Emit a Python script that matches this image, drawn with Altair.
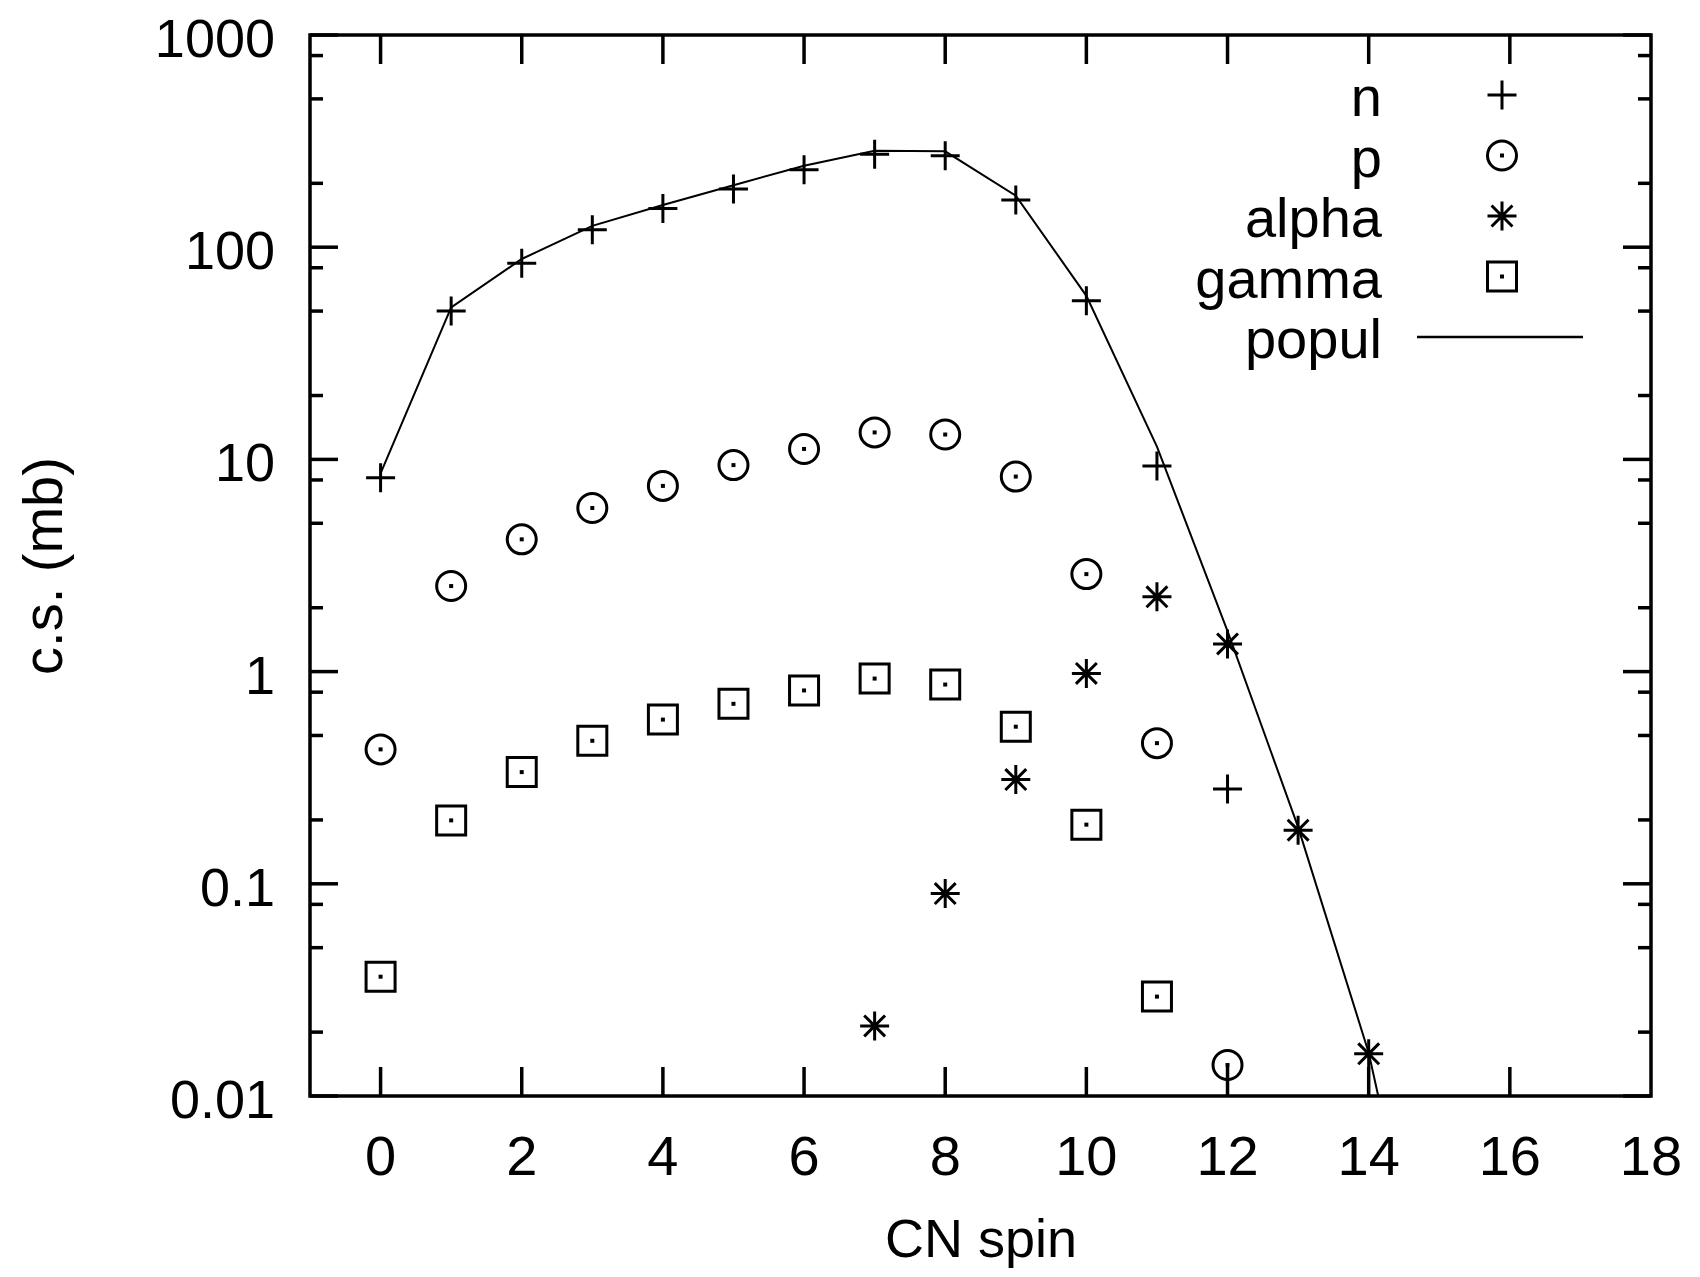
import altair as alt
import pandas as pd

# ---------------- data ----------------
spin_n = list(range(0, 13))
n_cs = [8.2, 50, 84, 121, 152, 188, 232, 274, 270, 167, 56, 9.3, 0.28]

spin_p = list(range(0, 13))
p_cs = [0.43, 2.53, 4.2, 5.9, 7.5, 9.4, 11.2, 13.4, 13.1, 8.3, 2.88, 0.46, 0.014]

spin_alpha = list(range(7, 15))
alpha_cs = [0.0214, 0.090, 0.31, 0.98, 2.25, 1.35, 0.179, 0.0158]

spin_gamma = list(range(0, 12))
gamma_cs = [0.0365, 0.199, 0.336, 0.472, 0.594, 0.705, 0.815, 0.927, 0.869, 0.55, 0.19, 0.0294]

spin_popul = list(range(0, 16))
popul_cs = [8.6, 52, 88, 126, 158, 196, 242, 285, 283, 175, 59, 11.5, 1.55, 0.185, 0.016, 0.0005]

legend_labels = ["n", "p", "alpha", "gamma", "popul"]
x_tick_values = [0, 2, 4, 6, 8, 10, 12, 14, 16, 18]
x_inner_ticks = [0, 2, 4, 6, 8, 10, 12, 14, 16]
y_tick_values = [0.01, 0.1, 1, 10, 100, 1000]
y_tick_labels = ["0.01", "0.1", "1", "10", "100", "1000"]
y_minor_values = [round(m * d, 4) for d in [0.01, 0.1, 1, 10, 100] for m in (2, 5, 8)]
x_title = "CN spin"
y_title = "c.s. (mb)"

# ---------------- layout / style ----------------
W, H = 1341, 1061
FONT = "Liberation Sans"
FS = 56
FS_Y = 54
FS_T = 54
MAJ, MIN = 28, 13
FRAME_W = 3.5

PLUS = "M-1,0H1M0,-1V1"
STAR = "M-1,0H1M0,-1V1M-0.72,-0.72L0.72,0.72M-0.72,0.72L0.72,-0.72"
SYM_SIZE = 841

xscale = alt.Scale(domain=[-1, 18], nice=False, zero=False)
yscale = alt.Scale(type="log", domain=[0.01, 1000], nice=False)


def df(xs, ys):
    return pd.DataFrame({"spin": xs, "cs": ys})


line = alt.Chart(df(spin_popul, popul_cs)).mark_line(color="black", strokeWidth=2, clip=True).encode(
    x=alt.X("spin:Q", scale=xscale, axis=None),
    y=alt.Y("cs:Q", scale=yscale, axis=None),
)


def pts(xs, ys, shape, size=SYM_SIZE, filled=False):
    m = alt.Chart(df(xs, ys)).mark_point(shape=shape, size=size, filled=filled, color="black",
                                         strokeWidth=3, opacity=1)
    return m.encode(x=alt.X("spin:Q", scale=xscale, axis=None),
                    y=alt.Y("cs:Q", scale=yscale, axis=None))


n_layer = pts(spin_n, n_cs, PLUS)
p_layer = pts(spin_p, p_cs, "circle")
p_dot = pts(spin_p, p_cs, "square", size=16, filled=True)
a_layer = pts(spin_alpha, alpha_cs, STAR)
g_layer = pts(spin_gamma, gamma_cs, "square")
g_dot = pts(spin_gamma, gamma_cs, "square", size=16, filled=True)

# inward ticks on all four sides
ytm = pd.DataFrame({"v": y_tick_values, "lab": y_tick_labels})
ytn = pd.DataFrame({"v": y_minor_values})
xtm = pd.DataFrame({"v": x_inner_ticks})
xlab = pd.DataFrame({"v": x_tick_values, "lab": [str(v) for v in x_tick_values]})


def yticks(d, length, right):
    x0 = W if right else 0
    x1 = W - length if right else length
    return alt.Chart(d).mark_rule(color="black", strokeWidth=FRAME_W).encode(
        y=alt.Y("v:Q", scale=yscale, axis=None), x=alt.value(x0), x2=alt.value(x1))


def xticks(d, length, top):
    y0 = 0 if top else H
    y1 = length if top else H - length
    return alt.Chart(d).mark_rule(color="black", strokeWidth=FRAME_W).encode(
        x=alt.X("v:Q", scale=xscale, axis=None), y=alt.value(y0), y2=alt.value(y1))


tick_layers = [yticks(ytm, MAJ, False), yticks(ytm, MAJ, True),
               yticks(ytn, MIN, False), yticks(ytn, MIN, True),
               xticks(xtm, MAJ + 1, False), xticks(xtm, MAJ + 1, True)]

# tick labels
ylabels = alt.Chart(ytm).mark_text(align="right", baseline="alphabetic", dy=22, font=FONT,
                                   fontSize=FS_Y, color="black").encode(
    y=alt.Y("v:Q", scale=yscale, axis=None), x=alt.value(-35), text="lab:N")
xlabels = alt.Chart(xlab).mark_text(align="center", baseline="alphabetic", font=FONT,
                                    fontSize=FS, color="black").encode(
    x=alt.X("v:Q", scale=xscale, axis=None), y=alt.value(H + 79), text="lab:N")

# axis titles
xt = alt.Chart(pd.DataFrame({"t": [x_title]})).mark_text(
    align="center", baseline="alphabetic", font=FONT, fontSize=FS_T, color="black").encode(
    x=alt.value(671), y=alt.value(H + 161), text="t:N")
yt = alt.Chart(pd.DataFrame({"t": [y_title]})).mark_text(
    align="center", baseline="alphabetic", font=FONT, fontSize=FS, color="black",
    angle=270).encode(
    x=alt.value(-248), y=alt.value(531), text="t:N")

# legend (gnuplot style: label right-aligned, symbol to its right)
LEG_TX, LEG_SX = 1072, 1192
legend_layers = []
leg_shapes = [PLUS, "circle", STAR, "square", None]
for i, lab in enumerate(legend_labels):
    base_y = 81 + 60.5 * i
    sym_y = base_y - 21
    d1 = pd.DataFrame({"label": [lab]})
    legend_layers.append(
        alt.Chart(d1).mark_text(align="right", baseline="alphabetic", font=FONT, fontSize=FS,
                                color="black").encode(
            text="label:N", x=alt.value(LEG_TX), y=alt.value(base_y)))
    shp = leg_shapes[i]
    if shp is None:
        legend_layers.append(
            alt.Chart(d1).mark_rule(color="black", strokeWidth=2.5).encode(
                x=alt.value(1107), x2=alt.value(1273), y=alt.value(sym_y)))
    else:
        legend_layers.append(
            alt.Chart(d1).mark_point(shape=shp, size=SYM_SIZE, filled=False, color="black",
                                     strokeWidth=3, opacity=1).encode(
                x=alt.value(LEG_SX), y=alt.value(sym_y)))
        if shp in ("circle", "square"):
            legend_layers.append(
                alt.Chart(d1).mark_point(shape="square", size=16, filled=True, color="black",
                                         opacity=1).encode(
                    x=alt.value(LEG_SX), y=alt.value(sym_y)))

chart = alt.layer(line, n_layer, p_layer, p_dot, a_layer, g_layer, g_dot,
                  *tick_layers, ylabels, xlabels, xt, yt, *legend_layers).properties(
    width=W, height=H,
    autosize=alt.AutoSizeParams(type="none"),
    padding={"left": 302, "top": 27, "right": 41, "bottom": 173},
    background="white",
).configure_view(stroke="black", strokeWidth=FRAME_W)

chart.save("out.html", embed_options={"renderer": "svg", "actions": False})
